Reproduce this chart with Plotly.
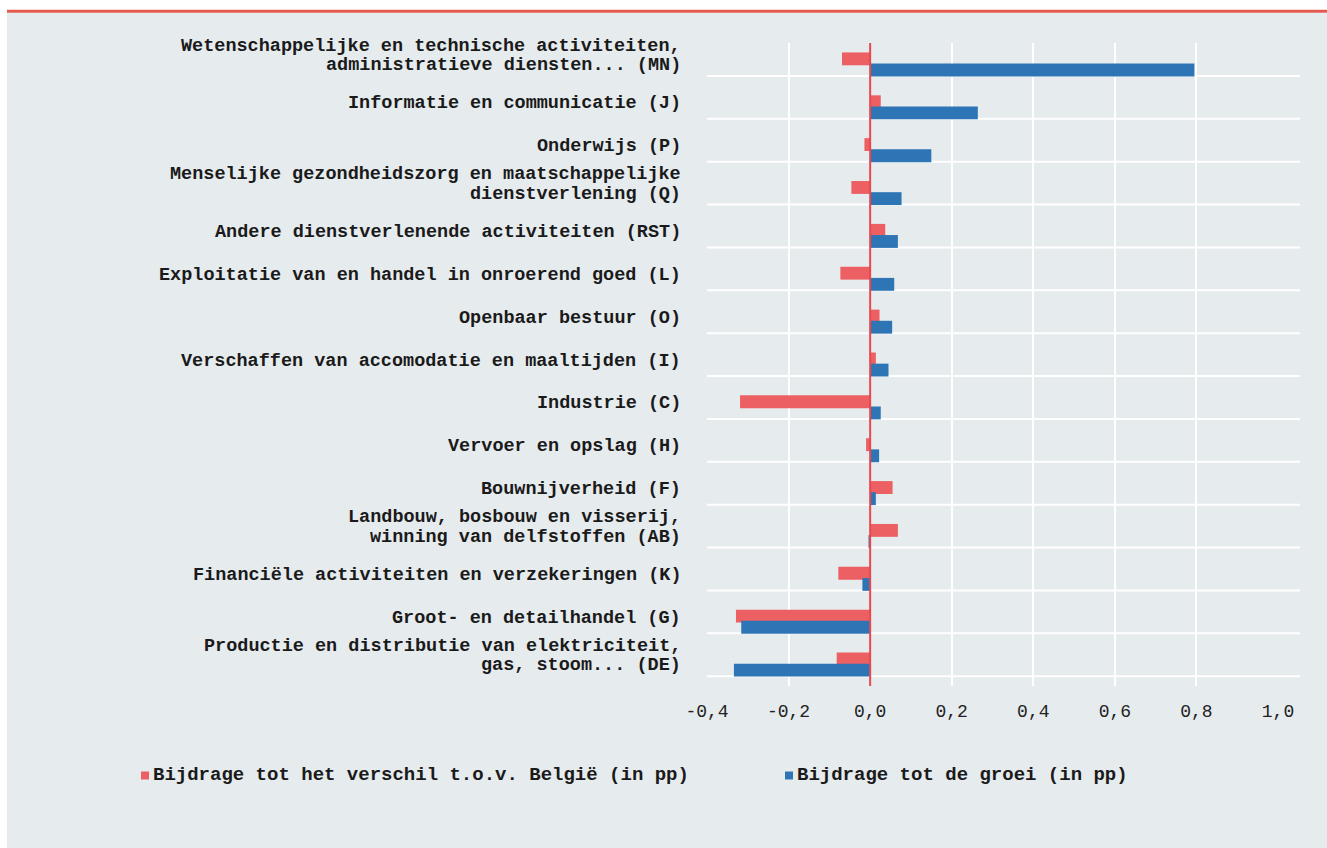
import plotly.graph_objects as go

# Sectors, listed from top to bottom
categories = [
    "Wetenschappelijke en technische activiteiten,<br>administratieve diensten... (MN)",
    "Informatie en communicatie (J)",
    "Onderwijs (P)",
    "Menselijke gezondheidszorg en maatschappelijke<br>dienstverlening (Q)",
    "Andere dienstverlenende activiteiten (RST)",
    "Exploitatie van en handel in onroerend goed (L)",
    "Openbaar bestuur (O)",
    "Verschaffen van accomodatie en maaltijden (I)",
    "Industrie (C)",
    "Vervoer en opslag (H)",
    "Bouwnijverheid (F)",
    "Landbouw, bosbouw en visserij,<br>winning van delfstoffen (AB)",
    "Financiële activiteiten en verzekeringen (K)",
    "Groot- en detailhandel (G)",
    "Productie en distributie van elektriciteit,<br>gas, stoom... (DE)",
]

# Contribution to the gap with Belgium (pp)
verschil = [-0.069, 0.026, -0.014, -0.046, 0.037, -0.073, 0.023, 0.014, -0.319,
            -0.010, 0.055, 0.068, -0.078, -0.329, -0.082]
# Contribution to growth (pp)
groei = [0.795, 0.264, 0.150, 0.077, 0.068, 0.059, 0.054, 0.045, 0.026,
         0.022, 0.014, -0.004, -0.019, -0.316, -0.334]

series_names = ["Bijdrage tot het verschil t.o.v. België (in pp)",
                "Bijdrage tot de groei (in pp)"]

x_ticks = [-0.4, -0.2, 0.0, 0.2, 0.4, 0.6, 0.8, 1.0]
x_tick_labels = ["-0,4", "-0,2", "0,0", "0,2", "0,4", "0,6", "0,8", "1,0"]

RED = "#ec5f62"
BLUE = "#2e75b6"
TEXT = "#1a1a1a"
FONT = "Liberation Mono"

W, H = 1327, 848
ML, MR, MT, MB = 707, 49, 43, 162
PW, PH = W - ML - MR, H - MT - MB


def px_x(px):
    return (px - ML) / PW


def px_y(py):
    return (H - MB - py) / PH


n = len(categories)
pos = [n - 1 - j for j in range(n)]

fig = go.Figure()
fig.add_trace(go.Bar(
    y=pos, x=verschil, orientation="h", name=series_names[0],
    marker=dict(color=RED, line=dict(width=0)),
    width=0.3, offset=-0.02, showlegend=False,
))
fig.add_trace(go.Bar(
    y=pos, x=groei, orientation="h", name=series_names[1],
    marker=dict(color=BLUE, line=dict(width=0)),
    width=0.3, offset=-0.28, showlegend=False,
))

shapes = []
# grey panel and red rule on top
shapes.append(dict(type="rect", xref="paper", yref="paper",
                   x0=px_x(7), x1=px_x(W), y0=px_y(H), y1=px_y(12.7),
                   fillcolor="#e6ebee", line=dict(width=0), layer="below"))
shapes.append(dict(type="line", xref="paper", yref="paper",
                   x0=px_x(7), x1=px_x(W), y0=px_y(11.3), y1=px_y(11.3),
                   line=dict(color="#e35b50", width=3), layer="above"))
# horizontal separators between sectors
for k in range(n):
    shapes.append(dict(type="line", xref="paper", yref="y",
                       x0=0, x1=px_x(1300), y0=k - 0.27, y1=k - 0.27,
                       line=dict(color="white", width=2), layer="below"))
# zero line
shapes.append(dict(type="line", xref="x", yref="paper", x0=0, x1=0, y0=0, y1=1,
                   line=dict(color="#e8484d", width=2), layer="above"))

annotations = []
for j, label in enumerate(categories):
    lines = label.split("<br>")
    if len(lines) == 1:
        offsets = [0.08]
    else:
        offsets = [0.43, -0.03]
    for line, off in zip(lines, offsets):
        annotations.append(dict(
            xref="paper", yref="y", x=px_x(683), y=pos[j] + off,
            text="<b>" + line + "</b>", showarrow=False,
            xanchor="right", yanchor="middle",
            font=dict(family=FONT, size=18.5, color=TEXT),
        ))

# legend drawn by hand: small square followed directly by the text
legend_items = [(series_names[0], RED, 141, 151), (series_names[1], BLUE, 785, 795)]
for name, color, sx, tx in legend_items:
    shapes.append(dict(type="rect", xref="paper", yref="paper",
                       x0=px_x(sx), x1=px_x(sx + 8), y0=px_y(779.5), y1=px_y(771.5),
                       fillcolor=color, line=dict(width=0), layer="above"))
    annotations.append(dict(
        xref="paper", yref="paper", x=px_x(tx), y=px_y(775.5),
        text="<b>" + name + "</b>", showarrow=False,
        xanchor="left", yanchor="middle",
        font=dict(family=FONT, size=19, color=TEXT),
    ))

fig.update_layout(
    width=W, height=H,
    margin=dict(l=ML, r=MR, t=MT, b=MB, pad=0),
    paper_bgcolor="white",
    plot_bgcolor="#eef2f3",
    barmode="overlay",
    shapes=shapes,
    annotations=annotations,
    showlegend=False,
    xaxis=dict(
        range=[-0.4, 1.0], tickvals=x_ticks, ticktext=x_tick_labels,
        showgrid=True, gridcolor="white", gridwidth=2,
        zeroline=False, showline=False, ticks="",
        ticklabelstandoff=12,
        tickfont=dict(family=FONT, size=18, color="#222222"),
    ),
    yaxis=dict(
        range=[-0.5, n - 0.5], showgrid=False, zeroline=False,
        showticklabels=False, showline=False, ticks="",
    ),
)

fig.write_html("out.html")
